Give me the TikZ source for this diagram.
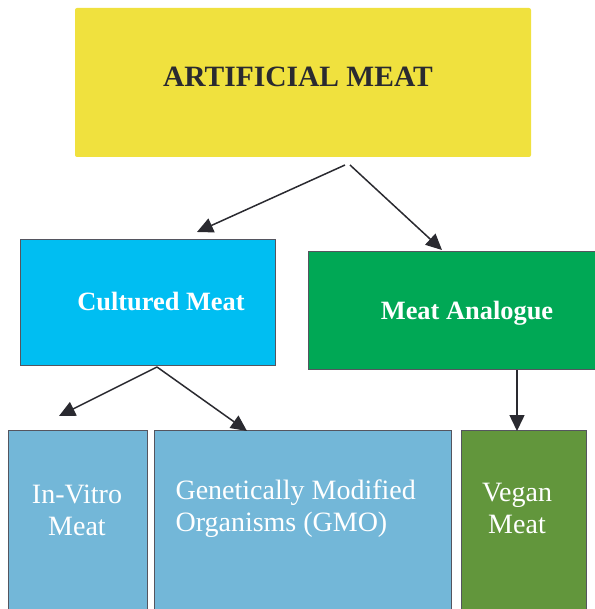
\documentclass[tikz,border=0pt]{standalone}
\usepackage{fontspec}
\setmainfont{Liberation Serif}
\usetikzlibrary{arrows.meta}

\definecolor{artyellow}{RGB}{240,225,62}
\definecolor{cultblue}{RGB}{0,190,242}
\definecolor{analgreen}{RGB}{0,168,85}
\definecolor{subblue}{RGB}{115,183,216}
\definecolor{vegangreen}{RGB}{98,150,60}
\definecolor{inkdark}{RGB}{42,42,48}
\definecolor{boxline}{RGB}{85,85,95}

\begin{document}
\begin{tikzpicture}[x=1pt, y=-1pt,
  box/.style={draw=boxline, line width=1pt, inner sep=0pt},
  link/.style={draw=inkdark, line width=1.5pt, -{Triangle[length=16pt,width=15pt]}},
  boldlabel/.style={font=\fontsize{26.4}{30}\selectfont\bfseries, text=white},
  sublabel/.style={font=\fontsize{28}{32}\selectfont, text=white}]
  \useasboundingbox (0,0) rectangle (594,609);

  % main box
  \node[fill=artyellow, rounded corners=2pt, minimum width=456pt, minimum height=149pt] (art) at (303,82.5) {};
  \node[font=\fontsize{29.5}{32}\selectfont\bfseries, text=inkdark] (artlbl) at (298,77) {ARTIFICIAL MEAT};

  % second level
  \node[box, fill=cultblue, minimum width=255pt, minimum height=125pt] (cult) at (147.5,302.5) {};
  \node[boldlabel] (cultlbl) at (161,302) {Cultured Meat};

  \node[box, fill=analgreen, minimum width=290pt, minimum height=118pt] (anal) at (453,310) {};
  \node[boldlabel] (anallbl) at (467,313) {Meat Analogue};

  % third level
  \node[box, fill=subblue, minimum width=139pt, minimum height=190pt, anchor=north west] (vitro) at (8,430) {};
  \node[sublabel, align=center] (vitrolbl) at (77,510) {In-Vitro\\Meat};

  \node[box, fill=subblue, minimum width=297pt, minimum height=190pt, anchor=north west] (gmo) at (154,430) {};
  \node[sublabel, align=left, anchor=west] (gmolbl) at (172,509) {Genetically Modified\\Organisms (GMO)};

  \node[box, fill=vegangreen, minimum width=125pt, minimum height=190pt, anchor=north west] (vegan) at (461,430) {};
  \node[sublabel, align=center] (veganlbl) at (517,508) {Vegan\\Meat};

  % arrow ends
  \coordinate (artoutl) at (345,165);
  \coordinate (artoutr) at (350,165);
  \coordinate (cultout) at (157,367);
  \coordinate (analout) at (517,370);
  \coordinate (cultin) at (197,232);
  \coordinate (analin) at (442,250);
  \coordinate (vitroin) at (59,416);
  \coordinate (gmoin) at (247,431);
  \coordinate (veganin) at (517,431);

  % arrows
  \draw[link] (artoutl) -- (cultin);
  \draw[link] (artoutr) -- (analin);
  \draw[link] (cultout) -- (vitroin);
  \draw[link] (cultout) -- (gmoin);
  \draw[link] (analout) -- (veganin);
\end{tikzpicture}
\end{document}
